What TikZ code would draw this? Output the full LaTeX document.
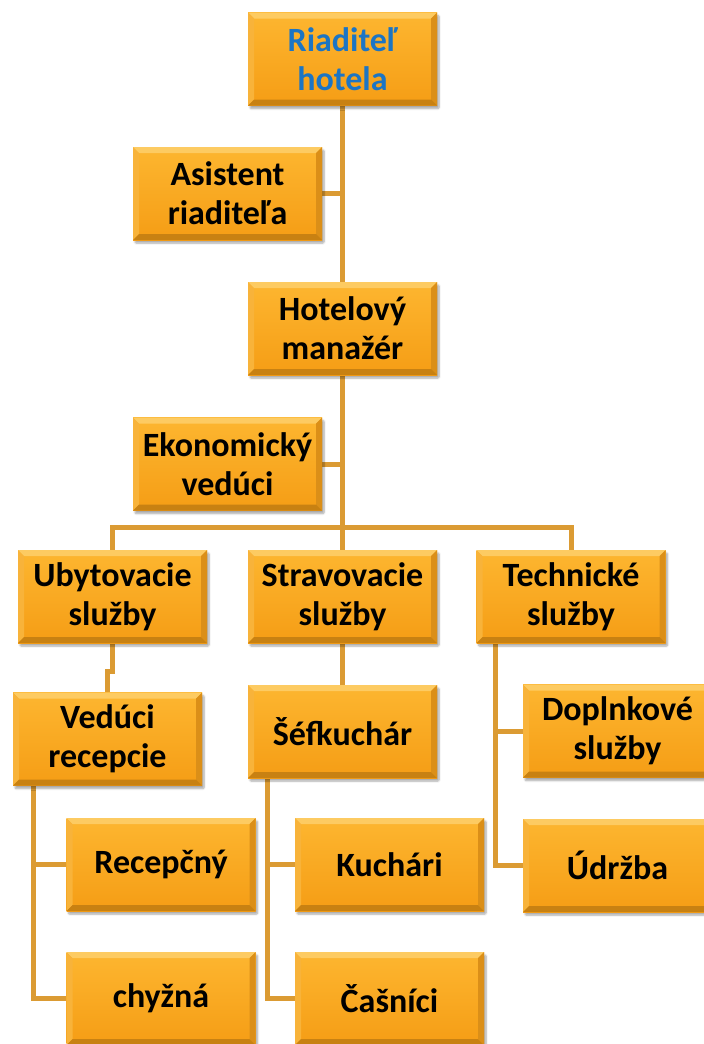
\documentclass[tikz,border=0pt]{standalone}
\usepackage{fontspec}
\setmainfont{Carlito}
\usetikzlibrary{calc,backgrounds,shadows.blur}

\definecolor{facetop}{HTML}{FDB630}
\definecolor{facebot}{HTML}{F59D15}
\definecolor{bevtop}{HTML}{FDCB62}
\definecolor{bevleft}{HTML}{F8B33A}
\definecolor{bevright}{HTML}{DB8F18}
\definecolor{bevbot}{HTML}{C88112}
\definecolor{linkcol}{HTML}{DB9B33}
\definecolor{headblue}{HTML}{1C75C4}

\newcommand{\boxfont}{\fontsize{34}{39}\selectfont\bfseries}
\newcommand{\bev}{6pt}

\tikzset{
  orgbox/.style={
    rectangle, minimum width=189pt, minimum height=93pt, inner sep=0pt,
    align=center, font=\boxfont, top color=facetop, bottom color=facebot,
    blur shadow={shadow xshift=2pt, shadow yshift=-3pt, shadow blur steps=6,
                 shadow blur extra rounding=1pt, shadow opacity=35},
    path picture={
      \coordinate (bsw) at (path picture bounding box.south west);
      \coordinate (bne) at (path picture bounding box.north east);
      \coordinate (bnw) at (bsw |- bne);
      \coordinate (bse) at (bne |- bsw);
      \fill[bevtop] (bnw) -- (bne) -- ($(bne)+(-\bev,-\bev)$) -- ($(bnw)+(\bev,-\bev)$) -- cycle;
      \fill[bevleft] (bnw) -- (bsw) -- ($(bsw)+(\bev,\bev)$) -- ($(bnw)+(\bev,-\bev)$) -- cycle;
      \fill[bevright] (bne) -- (bse) -- ($(bse)+(-\bev,\bev)$) -- ($(bne)+(-\bev,-\bev)$) -- cycle;
      \fill[bevbot] (bsw) -- (bse) -- ($(bse)+(-\bev,\bev)$) -- ($(bsw)+(\bev,\bev)$) -- cycle;
    }},
  link/.style={draw=linkcol, line width=5pt}
}

\begin{document}
\begin{tikzpicture}[x=1pt, y=-1pt]
  \useasboundingbox (0,0) rectangle (704,1044);
  \clip (0,0) rectangle (704,1044);

  % boxes
  \node[orgbox, text=headblue] (riad)   at (342.5, 59)   {Riaditeľ\\hotela};
  \node[orgbox] (asist)  at (227.5, 193.5) {Asistent\\riaditeľa};
  \node[orgbox] (hotel)  at (342.5, 328.5) {Hotelový\\manažér};
  \node[orgbox] (ekon)   at (227.5, 464)   {Ekonomický\\vedúci};
  \node[orgbox] (ubyt)   at (112.5, 596.5) {Ubytovacie\\služby};
  \node[orgbox] (strav)  at (342.5, 596.5) {Stravovacie\\služby};
  \node[orgbox] (tech)   at (571, 596.5)   {Technické\\služby};
  \node[orgbox] (vedrec) at (107.5, 739)   {Vedúci\\recepcie};
  \node[orgbox] (sef)    at (342.5, 731.5) {Šéfkuchár};
  \node[orgbox] (dopl)   at (617.5, 731)   {Doplnkové\\služby};
  \node[orgbox] (udrz)   at (617.5, 865.5) {Údržba};
  \node[orgbox] (recep)  at (161, 864.5)   {Recepčný};
  \node[orgbox] (chyz)   at (161, 998.5)   {chyžná};
  \node[orgbox] (kuch)   at (389.5, 864.5) {Kuchári};
  \node[orgbox] (casn)   at (389.5, 998.5) {Čašníci};

  % rails and joints of the connector tree
  \coordinate (bus)    at (0, 527);
  \coordinate (jog)    at (0, 671);
  \coordinate (trail)  at (495, 0);
  \coordinate (srail)  at (267, 0);
  \coordinate (vrail)  at (33, 0);

  \begin{pgfonlayer}{background}
    \draw[link] (riad.south) -- (hotel.north);
    \draw[link] (asist.east) -- (asist.east -| riad.south);
    \draw[link] (hotel.south) -- (hotel.south |- bus);
    \draw[link] (ekon.east) -- (ekon.east -| hotel.south);
    \draw[link] (ubyt.north) -- (ubyt.north |- bus) -- (tech.north |- bus) -- (tech.north);
    \draw[link] (strav.north) -- (strav.north |- bus);
    \draw[link] (strav.south) -- (sef.north);
    \draw[link] (ubyt.south) -- (ubyt.south |- jog) -| (vedrec.north);
    \draw[link] (tech.south -| trail) |- (udrz.west);
    \draw[link] (dopl.west -| trail) -- (dopl.west);
    \draw[link] (sef.south -| srail) |- (casn.west);
    \draw[link] (kuch.west -| srail) -- (kuch.west);
    \draw[link] (vedrec.south -| vrail) |- (chyz.west);
    \draw[link] (recep.west -| vrail) -- (recep.west);
  \end{pgfonlayer}
\end{tikzpicture}
\end{document}
